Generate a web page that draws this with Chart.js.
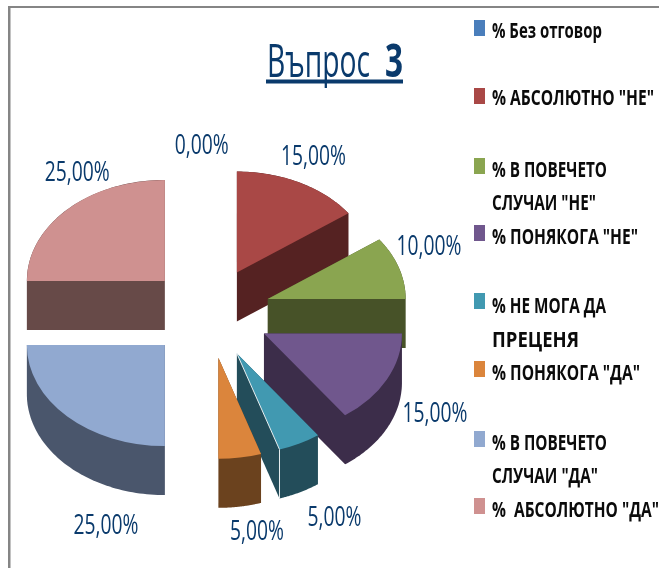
<!DOCTYPE html>
<html>
<head>
<meta charset="utf-8">
<script src="https://cdn.jsdelivr.net/npm/chart.js@4"></script>
<style>
  html, body { margin: 0; padding: 0; background: #fff; }
  canvas { display: block; }
</style>
</head>
<body>
<canvas id="pie3d" width="659" height="568"></canvas>
<script>
const titleWords = ['Въпрос', '3'];
const categories = ['% Без отговор', '% АБСОЛЮТНО "НЕ"', '% В ПОВЕЧЕТО СЛУЧАИ "НЕ"', '% ПОНЯКОГА "НЕ"',
                    '% НЕ МОГА ДА ПРЕЦЕНЯ', '% ПОНЯКОГА "ДА"', '% В ПОВЕЧЕТО СЛУЧАИ "ДА"', '%  АБСОЛЮТНО "ДА"'];
const values = [0, 15, 10, 15, 5, 5, 25, 25];

const topColors  = ['#4a7ebb', '#a94846', '#8aa550', '#70578d', '#4199b1', '#db853c', '#91a9d0', '#cf9190'];
const wallColors = ['#2c4a6e', '#552222', '#475228', '#3c2d4a', '#234d5a', '#6b421e', '#4a566c', '#674a48'];
const textBlue = '#0a3a6c';

// look of the fake 3D pie
const squash = 0.732, depth = 49, pieRadius = 138, explode = 62;

// label nudge from the middle of each slice's outer edge
const labelNudge = [[-7, -21], [14, -26], [30, -21], [48, 35], [35, 75], [17, 74], [38.6, 110], [10, -36]];
// legend layout: swatch top, then [text, baseline, width] for each line
const legendRows = [
  [20,  [['% Без отговор', 38, 110]]],
  [88,  [['% АБСОЛЮТНО "НЕ"', 105, 162]]],
  [158, [['% В ПОВЕЧЕТО', 177, 115], ['СЛУЧАИ "НЕ"', 210, 104]]],
  [225, [['% ПОНЯКОГА "НЕ"', 244, 146]]],
  [293, [['% НЕ МОГА ДА', 313, 114], ['ПРЕЦЕНЯ', 347, 87]]],
  [361, [['% ПОНЯКОГА "ДА"', 380, 148]]],
  [431, [['% В ПОВЕЧЕТО', 450, 115], ['СЛУЧАИ "ДА"', 483, 106]]],
  [498, [['%  АБСОЛЮТНО "ДА"', 517, 167]]]
];

function midAngle(arc) {
  return (arc.startAngle + arc.endAngle) / 2;
}

function centerY(chart) {
  return (chart.chartArea.top + chart.chartArea.bottom) / 2;
}

function squashCtx(ctx, cy) {
  ctx.translate(0, cy);
  ctx.scale(1, squash);
  ctx.translate(0, -cy);
}

// convex hull, monotone chain
function hull(pts) {
  pts.sort((a, b) => a[0] - b[0] || a[1] - b[1]);
  const cross = (o, a, b) => (a[0] - o[0]) * (b[1] - o[1]) - (a[1] - o[1]) * (b[0] - o[0]);
  const half = list => {
    const out = [];
    list.forEach(p => {
      while (out.length > 1 && cross(out[out.length - 2], out[out.length - 1], p) <= 0) out.pop();
      out.push(p);
    });
    out.pop();
    return out;
  };
  return half(pts).concat(half(pts.slice().reverse()));
}

// slice outline swept down by the depth, one fill so there are no stripes
function wallPath(ctx, arc, cy) {
  const pts = [[arc.x, cy + squash * (arc.y - cy)]];
  for (let n = 0; n <= 60; n++) {
    const a = arc.startAngle + (arc.endAngle - arc.startAngle) * n / 60;
    pts.push([arc.x + arc.outerRadius * Math.cos(a), cy + squash * (arc.y + arc.outerRadius * Math.sin(a) - cy)]);
  }
  const swept = pts.concat(pts.map(p => [p[0], p[1] + depth]));
  const outline = hull(swept);
  ctx.beginPath();
  outline.forEach((p, i) => i ? ctx.lineTo(p[0], p[1]) : ctx.moveTo(p[0], p[1]));
  ctx.closePath();
}

const pie3d = {
  id: 'pie3d',
  beforeDraw(chart) {
    const ctx = chart.ctx;
    ctx.save();
    ctx.fillStyle = '#858585';
    ctx.fillRect(8, 6, 2.5, 562);
    ctx.fillRect(8, 6, 651, 2);
    ctx.restore();
  },
  // explode the slices by moving the elements, the arc offset option also changes the radius
  afterDatasetsUpdate(chart) {
    chart.getDatasetMeta(0).data.forEach(arc => {
      arc.x += Math.cos(midAngle(arc)) * explode;
      arc.y += Math.sin(midAngle(arc)) * explode;
    });
  },
  beforeDatasetDraw(chart) {
    const ctx = chart.ctx, cy = centerY(chart);
    // side walls first
    chart.getDatasetMeta(0).data.forEach((arc, i) => {
      if (values[i] === 0) return;
      ctx.fillStyle = wallColors[i];
      wallPath(ctx, arc, cy);
      ctx.fill();
    });
    ctx.save();
    squashCtx(ctx, cy);
  },
  afterDatasetDraw(chart) {
    chart.ctx.restore();
  },
  afterDraw(chart) {
    const ctx = chart.ctx, cy = centerY(chart);
    const arcs = chart.getDatasetMeta(0).data;

    // white seam on the small teal slice
    const teal = arcs[4];
    const sx = teal.x + teal.outerRadius * Math.cos(teal.endAngle);
    const sy = cy + squash * (teal.y + teal.outerRadius * Math.sin(teal.endAngle) - cy);
    ctx.save();
    ctx.strokeStyle = '#e8eef0';
    ctx.lineWidth = 1;
    ctx.beginPath();
    ctx.moveTo(teal.x, cy + squash * (teal.y - cy));
    ctx.lineTo(sx, sy);
    ctx.lineTo(sx, sy + depth);
    ctx.stroke();
    ctx.restore();

    // value labels
    ctx.save();
    ctx.fillStyle = textBlue;
    ctx.textAlign = 'center';
    ctx.textBaseline = 'middle';
    ctx.font = '28px "Open Sans"';
    arcs.forEach((arc, i) => {
      const a = midAngle(arc);
      const x = arc.x + arc.outerRadius * Math.cos(a) + labelNudge[i][0];
      const y = cy + squash * (arc.y + arc.outerRadius * Math.sin(a) - cy) + labelNudge[i][1];
      const txt = values[i].toFixed(2).replace('.', ',') + '%';
      ctx.fillText(txt, x, y, txt.length === 6 ? 65 : 54);
    });
    ctx.restore();

    // title
    ctx.save();
    ctx.fillStyle = textBlue;
    ctx.textBaseline = 'alphabetic';
    ctx.font = '46px "Open Sans"';
    ctx.fillText(titleWords[0], 267, 77, 103);
    ctx.font = 'bold 46px "Open Sans"';
    ctx.fillText(titleWords[1], 385, 77, 18);
    ctx.fillRect(266, 79.5, 137, 4);
    ctx.restore();

    // legend
    ctx.save();
    ctx.textBaseline = 'alphabetic';
    ctx.font = 'bold 22px "Open Sans"';
    legendRows.forEach((row, i) => {
      ctx.fillStyle = topColors[i];
      ctx.fillRect(474, row[0], 11, 16);
      ctx.fillStyle = '#0b0b0b';
      row[1].forEach(line => ctx.fillText(line[0], 492, line[1], line[2]));
    });
    ctx.restore();
  }
};

new Chart(document.getElementById('pie3d').getContext('2d'), {
  type: 'pie',
  data: {
    labels: categories,
    datasets: [{
      data: values,
      backgroundColor: topColors,
      borderWidth: 0,
      clip: false
    }]
  },
  options: {
    responsive: false,
    animation: false,
    radius: pieRadius,
    layout: { padding: { left: 0, right: 241.6, top: 58, bottom: 0 } },
    plugins: {
      legend: { display: false },
      title: { display: false },
      tooltip: { enabled: false }
    }
  },
  plugins: [pie3d]
});
</script>
</body>
</html>
